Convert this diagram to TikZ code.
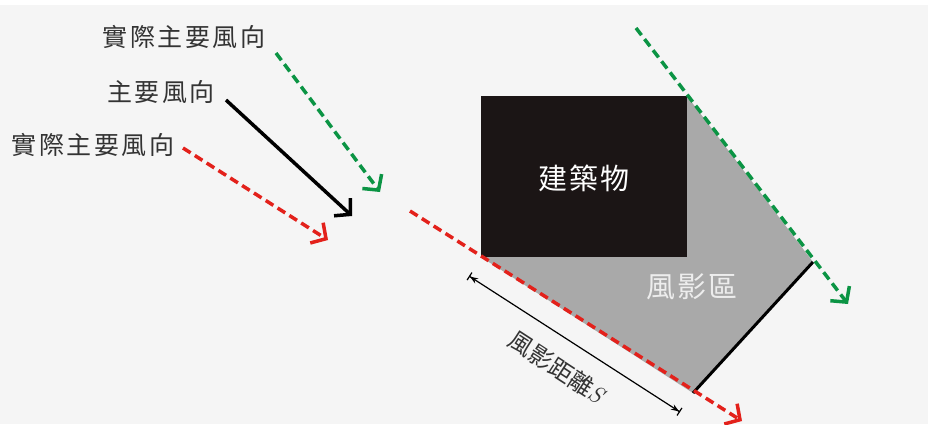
\documentclass[tikz,border=0pt]{standalone}
\usepackage{fontspec}
\newfontfamily\cjk{Noto Sans CJK TC}
\usetikzlibrary{arrows.meta}
\definecolor{bg}{HTML}{F5F5F5}
\definecolor{bldg}{HTML}{1B1515}
\definecolor{shadowgray}{HTML}{A9A9A9}
\definecolor{windgreen}{HTML}{0B9444}
\definecolor{windred}{HTML}{E3211B}
\definecolor{labelgray}{HTML}{333333}
\begin{document}
\begin{tikzpicture}[x=1pt,y=-1pt,
  windarrow/.style={line width=3.5pt,-{Straight Barb[length=11pt,width=24pt]}},
  dashedwind/.style={windarrow,dash pattern=on 9pt off 5pt},
  windlabel/.style={font=\cjk\fontsize{25}{25}\selectfont\addfontfeature{LetterSpace=10},text=labelgray,inner sep=0pt},
  bigwhite/.style={font=\cjk\fontsize{29}{29}\selectfont\addfontfeature{LetterSpace=6},inner sep=0pt}
]
\useasboundingbox (0,0) rectangle (928,424);
\fill[bg] (0,0) rectangle (928,424);
\fill[white] (0,0) rectangle (928,5);
% shadow zone
\coordinate (bl) at (481,257);
\coordinate (tr) at (687,96);
\coordinate (se) at (813,262);
\coordinate (sw) at (693,393);
\fill[shadowgray] (bl) -- (tr) -- (se) -- (sw) -- cycle;
\node[fill=bldg,minimum width=206pt,minimum height=161pt,inner sep=0pt,anchor=north west] (building) at (481,96) {};
\draw[line width=3pt] (se) -- (sw);
% long wind lines
\coordinate (g1) at (636,28);
\coordinate (g2) at (848,304);
\draw[dashedwind,windgreen] (g1) -- (g2);
\coordinate (r1) at (410,211);
\coordinate (r2) at (742,421);
\draw[dashedwind,windred] (r1) -- (r2);
% left arrows
\coordinate (lg1) at (276,53);
\coordinate (lg2) at (380,192);
\draw[dashedwind,windgreen] (lg1) -- (lg2);
\coordinate (lb1) at (226,100);
\coordinate (lb2) at (352,216);
\draw[windarrow,black] (lb1) -- (lb2);
\coordinate (lr1) at (183,148);
\coordinate (lr2) at (328,240);
\draw[dashedwind,windred] (lr1) -- (lr2);
% dimension
\coordinate (d1) at (469,276);
\coordinate (d2) at (680,412);
\draw[line width=1.2pt,{Bar[width=9pt]Stealth[length=8pt,width=6pt]}-{Stealth[length=8pt,width=6pt]Bar[width=9pt]}] (d1) -- (d2);
% labels
\node[windlabel] (tlabel) at (184,37) {實際主要風向};
\node[windlabel] (mlabel) at (161,92) {主要風向};
\node[windlabel] (llabel) at (93,145) {實際主要風向};
\node[bigwhite,text=white] (btext) at (584,178) {建築物};
\node[bigwhite,text=white!93!black] (stext) at (692,287) {風影區};
\node[windlabel,rotate=-33,font=\cjk\fontsize{24}{24}\selectfont] (dlabel) at (557,367) {風影距離{\rmfamily\itshape S}};
\end{tikzpicture}
\end{document}
